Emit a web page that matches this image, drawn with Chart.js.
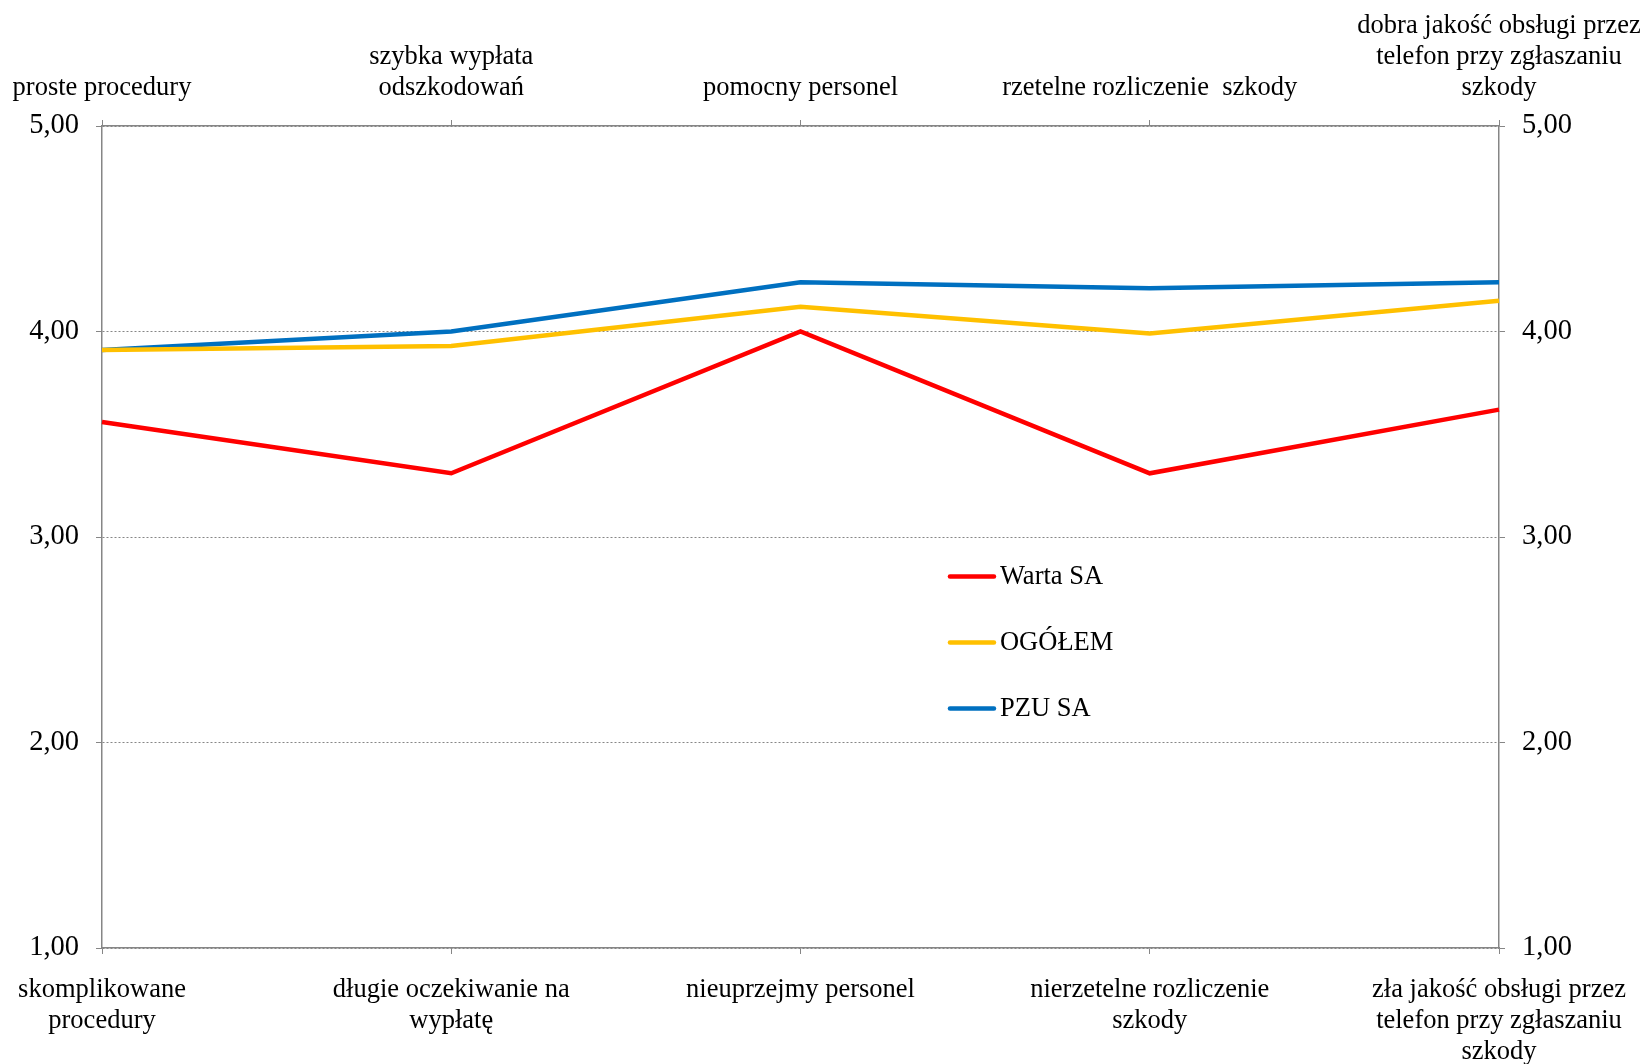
<!DOCTYPE html>
<html lang="pl">
<head>
<meta charset="utf-8">
<title>Ocena likwidacji szkód</title>
<script src="https://cdn.jsdelivr.net/npm/chart.js@4/dist/chart.umd.min.js"></script>
<style>
  html, body { margin: 0; padding: 0; background: #fff; }
  #chart { display: block; }
</style>
</head>
<body>
<canvas id="chart" width="1649" height="1064"></canvas>
<script>
// categories (bottom = negative, top = positive)
const bottomLabels = [
  ["skomplikowane", "procedury"],
  ["długie oczekiwanie na", "wypłatę"],
  "nieuprzejmy personel",
  ["nierzetelne rozliczenie", "szkody"],
  ["zła jakość obsługi przez", "telefon przy zgłaszaniu", "szkody"]
];
const topLabels = [
  "proste procedury",
  ["szybka wypłata", "odszkodowań"],
  "pomocny personel",
  "rzetelne rozliczenie  szkody",
  ["dobra jakość obsługi przez", "telefon przy zgłaszaniu", "szkody"]
];

// series values
const warta = [3.56, 3.31, 4.00, 3.31, 3.62];
const ogolem = [3.91, 3.93, 4.12, 3.99, 4.15];
const pzu = [3.91, 4.00, 4.24, 4.21, 4.24];

const yMin = 1;
const yMax = 5;

const serif = "'Liberation Serif', 'Times New Roman', serif";
const axisGray = "#868686";

function fmt(v) {
  return v.toFixed(2).replace(".", ",");
}

// fixed box size; wide edge labels may hang over the side boxes
function fixHeight(h) {
  return (s) => {
    s.height = h;
    s.paddingLeft = 0;
    s.paddingRight = 0;
  };
}

// legend drawn inside the plot, like the original
const innerLegend = {
  id: "innerLegend",
  afterDraw(chart) {
    const ctx = chart.ctx;
    const area = chart.chartArea;
    const x0 = area.left + area.width * 0.607;
    const y0 = area.top + area.height * 0.548;
    const gap = 66;
    ctx.save();
    ctx.font = "26.5px " + serif;
    ctx.textBaseline = "middle";
    ctx.fillStyle = "#000";
    chart.data.datasets.forEach((ds, i) => {
      const y = y0 + i * gap;
      ctx.strokeStyle = ds.borderColor;
      ctx.lineWidth = 4.5;
      ctx.lineCap = "round";
      ctx.beginPath();
      ctx.moveTo(x0, y);
      ctx.lineTo(x0 + 44, y);
      ctx.stroke();
      ctx.fillText(ds.label, x0 + 50, y + 1);
    });
    ctx.restore();
  }
};

const ctx = document.getElementById("chart").getContext("2d");

const chart = new Chart(ctx, {
  type: "line",
  data: {
    labels: bottomLabels,
    datasets: [
      { label: "Warta SA", data: warta, borderColor: "#FF0000" },
      { label: "OGÓŁEM", data: ogolem, borderColor: "#FFC000" },
      { label: "PZU SA", data: pzu, borderColor: "#0070C0" }
    ]
  },
  options: {
    responsive: false,
    animation: false,
    layout: { padding: 0 },
    elements: {
      line: { borderWidth: 4.5, tension: 0, borderJoinStyle: "miter" },
      point: { radius: 0, hoverRadius: 0 }
    },
    plugins: {
      legend: { display: false },
      tooltip: { enabled: false }
    },
    scales: {
      x: {
        type: "category",
        position: "bottom",
        offset: false,
        grid: { drawOnChartArea: false, tickLength: 6, tickColor: axisGray },
        border: { color: axisGray, width: 1.5 },
        ticks: {
          autoSkip: false,
          maxRotation: 0,
          padding: 20,
          color: "#000",
          font: { family: serif, size: 26.5, lineHeight: 1.18 }
        },
        afterFit: fixHeight(116)
      },
      x2: {
        type: "category",
        position: "top",
        labels: topLabels,
        offset: false,
        grid: { drawOnChartArea: false, tickLength: 6, tickColor: axisGray },
        border: { color: axisGray, width: 1.5 },
        ticks: {
          autoSkip: false,
          maxRotation: 0,
          padding: 16,
          color: "#000",
          font: { family: serif, size: 26.5, lineHeight: 1.18 }
        },
        afterFit: fixHeight(126)
      },
      y: {
        position: "left",
        min: yMin,
        max: yMax,
        grid: { color: axisGray, lineWidth: 1, tickLength: 6, tickColor: axisGray, tickBorderDash: [] },
        border: { color: axisGray, width: 1.5, dash: [2, 2] },
        ticks: {
          stepSize: 1,
          padding: 17,
          color: "#000",
          font: { family: serif, size: 28.5 },
          callback: (v) => fmt(v)
        },
        afterFit: (s) => { s.width = 102; }
      },
      y2: {
        position: "right",
        min: yMin,
        max: yMax,
        grid: { drawOnChartArea: false, tickLength: 6, tickColor: axisGray },
        border: { color: axisGray, width: 1.5 },
        ticks: {
          stepSize: 1,
          padding: 17,
          color: "#000",
          font: { family: serif, size: 28.5 },
          callback: (v) => fmt(v)
        },
        afterFit: (s) => { s.width = 150; }
      }
    }
  },
  plugins: [innerLegend]
});
</script>
</body>
</html>
